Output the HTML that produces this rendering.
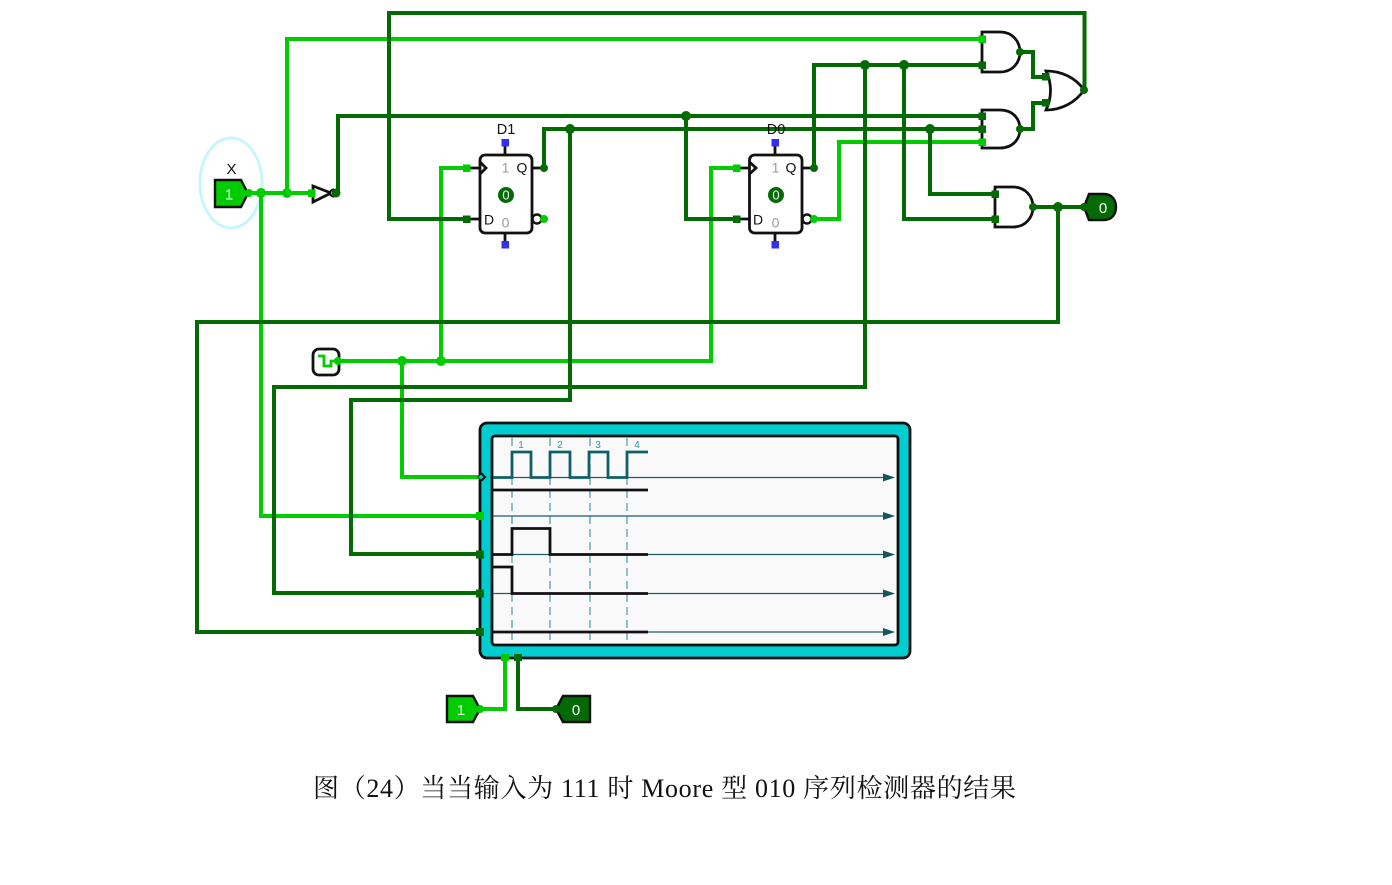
<!DOCTYPE html>
<html><head><meta charset="utf-8"><style>
html,body{margin:0;padding:0;background:#fff}
svg{display:block;filter:blur(0.35px)}
.b{fill:none;stroke:#00cc00;stroke-width:4;stroke-linejoin:miter}
.d{fill:none;stroke:#046a04;stroke-width:4;stroke-linejoin:miter}
.g{fill:#fff;stroke:#111;stroke-width:2.8}
.k{fill:none;stroke:#111;stroke-width:2.8}
text{font-family:"Liberation Sans",sans-serif}
</style></head><body>
<svg width="1392" height="885" viewBox="0 0 1392 885" xmlns="http://www.w3.org/2000/svg">
<rect width="1392" height="885" fill="#fff"/>
<ellipse cx="231" cy="183" rx="31" ry="45" fill="none" stroke="#c6f6fb" stroke-width="3"/>

<!-- analyzer -->
<rect x="480" y="423" width="430" height="235" rx="7" fill="#00cdd0" stroke="#111" stroke-width="2.8"/>
<rect x="492" y="436" width="406" height="209" rx="3" fill="#f9f9f9" stroke="#111" stroke-width="2.8"/>
<g stroke="#4d9aa0" stroke-width="1.2" stroke-dasharray="8 5" fill="none">
<path d="M512 438V640M550 438V640M590 438V640M627 438V640"/>
</g>
<g fill="#2d9aa0" font-size="10" text-anchor="middle"><text x="521" y="448">1</text><text x="560" y="448">2</text><text x="598" y="448">3</text><text x="637" y="448">4</text></g>
<g stroke="#1d5f66" stroke-width="1.2" fill="none"><path d="M493 477.500H885M493 516H885M493 554.500H885M493 593.500H885M493 632H885"/></g>
<g fill="#15555c"><path d="M883 473.500L895 477.500L883 481.500ZM883 512L895 516L883 520ZM883 550.500L895 554.500L883 558.500ZM883 589.500L895 593.500L883 597.500ZM883 628L895 632L883 636Z"/></g>
<path d="M493 477.500H512V452H531V477.500H550V452H570V477.500H589V452H608V477.500H627V452H648" fill="none" stroke="#0f5f68" stroke-width="2.800"/>
<g fill="none" stroke="#111" stroke-width="2.800"><path d="M493 490H648"/><path d="M493 554.500H512V528.500H550V554.500H648"/><path d="M493 567H512V593.500H648"/><path d="M493 632H648"/></g>

<!-- bright wires -->
<path class="b" d="M248 193H314M287 193V39H982M261 193V516H480"/>
<path class="b" d="M338 361H711V168H737M441 361V168H467M402 361V477H482"/>
<path class="b" d="M814 219H839V142H982"/>
<path class="b" d="M480 709H505V658"/>
<!-- dark wires -->
<path class="d" d="M337 193H338V116H982"/>
<path class="d" d="M467 219H389V13H1084.500V90"/>
<path class="d" d="M544 168V129H982"/>
<path class="d" d="M570 129V400H351V554H480"/>
<path class="d" d="M686 116V219H737"/>
<path class="d" d="M814 168V65H982"/>
<path class="d" d="M865 65V387H274V593H480"/>
<path class="d" d="M904 65V219H995"/>
<path class="d" d="M930 129V194H995"/>
<path class="d" d="M1020 52H1033V77H1046M1020 129H1033V103H1046"/>
<path class="d" d="M1033 207H1085"/>
<path class="d" d="M1058 207V322H197V632H480"/>
<path class="d" d="M518 658V709H556"/>

<!-- AND gates -->
<path class="g" d="M982 32H1000C1013 32 1020 42 1020 52C1020 62 1013 72 1000 72H982Z"/>
<path class="g" d="M982 110H1000C1013 110 1020 119 1020 129C1020 139 1013 148 1000 148H982Z"/>
<path class="g" d="M995 187H1013C1026 187 1033 197 1033 207C1033 217 1026 227 1013 227H995Z"/>
<!-- OR gate -->
<path class="g" d="M1046 71C1062 71 1076 78 1084 90C1076 102 1062 110 1046 110C1052 98 1052 83 1046 71Z"/>
<!-- redraw wire stubs into OR -->
<path class="d" d="M1033 77H1046M1033 103H1046"/>

<!-- NOT -->
<path class="g" d="M313 186L331 193L313 202Z"/>
<circle cx="333.500" cy="193" r="3.500" fill="#fff" stroke="#111" stroke-width="2"/>

<!-- D1 flip flop -->
<g>
<path class="k" d="M505 143V155M505 233V244M467 168H481M467 219H481M532 168H544M532 219H544"/>
<rect x="480" y="155" width="52" height="78" rx="5" fill="#fff" stroke="#111" stroke-width="2.800"/>
<path class="k" d="M480 162L486 168L480 174"/>
<circle cx="537" cy="219" r="4.500" fill="#fff" stroke="#111" stroke-width="2.400"/>
<rect x="501.500" y="139" width="7.500" height="7.500" fill="#3030ee"/>
<rect x="501.500" y="241" width="7.500" height="7.500" fill="#3030ee"/>
<circle cx="506" cy="195" r="8" fill="#046a04"/>
<text x="506" y="199.500" font-size="13" fill="#fff" text-anchor="middle">0</text>
<text x="505.500" y="172.500" font-size="14" fill="#999" text-anchor="middle">1</text>
<text x="505.500" y="227.500" font-size="14" fill="#999" text-anchor="middle">0</text>
<text x="522" y="172.500" font-size="14" fill="#111" text-anchor="middle">Q</text>
<text x="489" y="224.500" font-size="14" fill="#111" text-anchor="middle">D</text>
<text x="506" y="134" font-size="14.500" fill="#111" text-anchor="middle">D1</text>
</g>
<!-- D0 flip flop -->
<g>
<path class="k" d="M775 143V155M775 233V244M737 168H751M737 219H751M802 168H814M802 219H814"/>
<rect x="749.500" y="155" width="52.500" height="78" rx="5" fill="#fff" stroke="#111" stroke-width="2.800"/>
<path class="k" d="M749.500 162L756 168L749.500 174"/>
<circle cx="807" cy="219" r="4.500" fill="#fff" stroke="#111" stroke-width="2.400"/>
<rect x="771.500" y="139" width="7.500" height="7.500" fill="#3030ee"/>
<rect x="771.500" y="241" width="7.500" height="7.500" fill="#3030ee"/>
<circle cx="776" cy="195" r="8" fill="#046a04"/>
<text x="776" y="199.500" font-size="13" fill="#fff" text-anchor="middle">0</text>
<text x="775.500" y="172.500" font-size="14" fill="#999" text-anchor="middle">1</text>
<text x="775.500" y="227.500" font-size="14" fill="#999" text-anchor="middle">0</text>
<text x="791" y="172.500" font-size="14" fill="#111" text-anchor="middle">Q</text>
<text x="758" y="224.500" font-size="14" fill="#111" text-anchor="middle">D</text>
<text x="776" y="134" font-size="14.500" fill="#111" text-anchor="middle">D0</text>
</g>

<!-- Input X -->
<path d="M215 180H241L248 193.500L241 207H215Z" fill="#00cc00" stroke="#111" stroke-width="2.400"/>
<text x="229" y="199.500" font-size="15" fill="#fff" text-anchor="middle">1</text>
<text x="231.500" y="174" font-size="15" fill="#111" text-anchor="middle">X</text>
<!-- Output -->
<path d="M1089 194H1104C1112 194 1116 200 1116 207C1116 214 1112 220 1104 220H1089L1084 207Z" fill="#046a04" stroke="#111" stroke-width="2.400"/>
<text x="1103" y="213" font-size="15" fill="#fff" text-anchor="middle">0</text>
<!-- Clock -->
<rect x="313" y="349" width="26" height="26" rx="6" fill="#fff" stroke="#111" stroke-width="2.800"/>
<path d="M318 356H324V366H331V361H338" fill="none" stroke="#00cc00" stroke-width="2.800"/>
<!-- Bottom input / output -->
<path d="M447 696H473L480 709L473 722H447Z" fill="#00cc00" stroke="#111" stroke-width="2.400"/>
<text x="461" y="715" font-size="15" fill="#fff" text-anchor="middle">1</text>
<path d="M590 696H563L556 709L563 722H590Z" fill="#046a04" stroke="#111" stroke-width="2.400"/>
<text x="576" y="715" font-size="15" fill="#fff" text-anchor="middle">0</text>

<!-- Pins -->
<g fill="#00cc00">
<rect x="463" y="164.500" width="7.500" height="7.500"/><rect x="733" y="164.500" width="7.500" height="7.500"/>
<rect x="308" y="189.500" width="7.500" height="7.500"/>
<rect x="978.500" y="35.500" width="7.500" height="7.500"/><rect x="978.500" y="138.500" width="7.500" height="7.500"/>
<rect x="476" y="512" width="8" height="8"/>
<rect x="501" y="654" width="8" height="7"/>
<circle cx="249" cy="193" r="4"/><circle cx="261" cy="193" r="5"/><circle cx="287" cy="193" r="5"/>
<circle cx="338" cy="361" r="4"/><circle cx="402" cy="361" r="5"/><circle cx="441" cy="361" r="5"/>
<circle cx="544" cy="219" r="4"/><circle cx="814" cy="219" r="4"/><circle cx="480" cy="709" r="4"/>
</g>
<g fill="#046a04">
<rect x="463" y="215.500" width="7.500" height="7.500"/><rect x="733" y="215.500" width="7.500" height="7.500"/>
<rect x="978.500" y="61.500" width="7.500" height="7.500"/><rect x="978.500" y="112.500" width="7.500" height="7.500"/><rect x="978.500" y="125.500" width="7.500" height="7.500"/>
<rect x="991.500" y="190.500" width="7.500" height="7.500"/><rect x="991.500" y="215.500" width="7.500" height="7.500"/>
<rect x="1042" y="73" width="7.500" height="7.500"/><rect x="1042" y="99" width="7.500" height="7.500"/>
<rect x="476" y="550.500" width="8" height="8"/><rect x="476" y="589.500" width="8" height="8"/><rect x="476" y="628" width="8" height="8"/>
<rect x="514" y="654" width="8" height="7"/>
<circle cx="336" cy="193" r="4.500"/><circle cx="544" cy="168" r="4"/><circle cx="570" cy="129" r="5"/><circle cx="686" cy="116" r="5"/>
<circle cx="814" cy="168" r="4"/><circle cx="865" cy="65" r="5"/><circle cx="904" cy="65" r="5"/><circle cx="930" cy="129" r="5"/>
<circle cx="1020" cy="52" r="4"/><circle cx="1020" cy="129" r="4"/><circle cx="1033" cy="207" r="4"/><circle cx="1058" cy="207" r="5"/>
<circle cx="1084" cy="90" r="4"/><circle cx="1084" cy="207" r="4"/><circle cx="556" cy="709" r="4"/>
</g>
<path d="M482 472.500L486.500 477L482 481.500L477.500 477Z" fill="#111"/>
<path d="M481 474.500L483.500 477L481 479.500L478.500 477Z" fill="#00cdd0"/>

<text x="313" y="797" font-size="26" fill="#111" style='font-family:"Liberation Serif","Noto Serif CJK SC",serif' textLength="703" lengthAdjust="spacing">图（24）当当输入为 111 时 Moore 型 010 序列检测器的结果</text>
</svg>
</body></html>
